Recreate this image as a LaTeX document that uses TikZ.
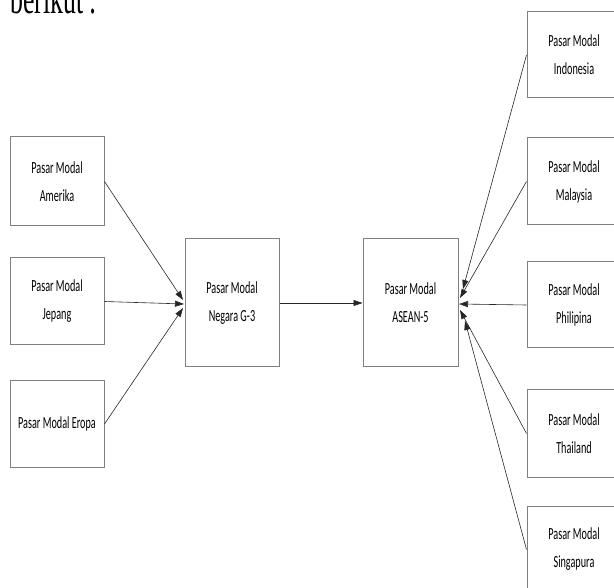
\documentclass[tikz,border=0pt]{standalone}
\usepackage{fontspec}
\setmainfont{Carlito}
\newfontfamily\serifttl{Liberation Serif}
\usetikzlibrary{arrows.meta}
\definecolor{boxgray}{RGB}{128,128,128}
\newcommand\sq[1]{\scalebox{0.6}[1]{#1}}
\tikzset{
  mbox/.style={draw=boxgray, line width=1pt, minimum width=94pt, inner sep=0pt,
    align=center, font=\fontsize{17}{28}\selectfont, fill=white},
  conn/.style={draw=black!85, line width=0.6pt, -{Triangle[length=9pt,width=6pt]}}
}
\begin{document}
\begin{tikzpicture}[x=1pt,y=-1pt]
\useasboundingbox (0,0) rectangle (614,588);
\clip (0,0) rectangle (614,588);
% title fragment
\node[anchor=base west, inner sep=0pt, font=\serifttl\fontsize{43}{50}\selectfont] (ttl) at (10,14) {\sq{berikut :}};
% left boxes
\node[mbox, minimum height=89pt] (ame) at (57,181.5) {\sq{Pasar Modal}\\\sq{Amerika}};
\node[mbox, minimum height=87pt] (jep) at (57,301.5) {\sq{Pasar Modal}\\\sq{Jepang}};
\node[mbox, minimum height=86pt] (ero) at (57,424) {\sq{Pasar Modal Eropa}};
% centre boxes
\node[mbox, minimum height=128pt] (g3) at (232,303) {\sq{Pasar Modal}\\\sq{Negara G-3}};
\node[mbox, minimum height=128pt, minimum width=95pt] (asean) at (410.5,303) {\sq{Pasar Modal}\\\sq{ASEAN-5}};
% right boxes
\node[mbox, minimum height=86pt] (ind) at (574,55) {\sq{Pasar Modal}\\\sq{Indonesia}};
\node[mbox, minimum height=87pt] (mal) at (574,181.5) {\sq{Pasar Modal}\\\sq{Malaysia}};
\node[mbox, minimum height=86pt] (phi) at (574,305) {\sq{Pasar Modal}\\\sq{Philipina}};
\node[mbox, minimum height=87pt] (tha) at (574,433.5) {\sq{Pasar Modal}\\\sq{Thailand}};
\node[mbox, minimum height=87pt] (sin) at (574,549.5) {\sq{Pasar Modal}\\\sq{Singapura}};
% free ends near the boxes
\coordinate (cA) at (183,300);
\coordinate (cJ) at (184,304);
\coordinate (cE) at (183,308);
\coordinate (rI) at (463,289);
\coordinate (rM) at (460,298);
\coordinate (rP) at (459,304);
\coordinate (rT) at (460,310);
\coordinate (rS) at (465,321);
% connectors
\draw[conn] (ame.east) -- (cA);
\draw[conn] (jep.east) -- (cJ);
\draw[conn] (ero.east) -- (cE);
\draw[conn] (g3.east) -- (asean.west);
\draw[conn] (ind.west) -- (rI);
\draw[conn] (mal.west) -- (rM);
\draw[conn] (phi.west) -- (rP);
\draw[conn] (tha.west) -- (rT);
\draw[conn] (sin.west) -- (rS);
\end{tikzpicture}
\end{document}
